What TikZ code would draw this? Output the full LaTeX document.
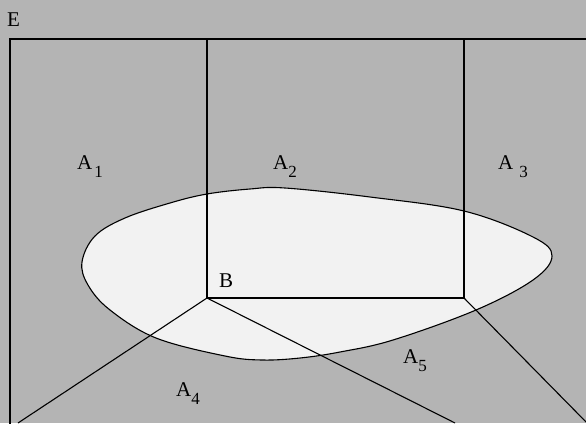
\documentclass[tikz,border=0pt]{standalone}
\usepackage{fontspec}
\setmainfont{Liberation Serif}
\definecolor{bggray}{RGB}{180,180,180}
\definecolor{blobfill}{RGB}{242,242,242}
\newcommand{\lowsub}[1]{\raisebox{-8pt}{\fontsize{17}{17}\selectfont #1}}
\begin{document}
\begin{tikzpicture}[x=1pt,y=-1pt,
  edge/.style={draw=black,line width=1.1pt},
  frame/.style={draw=black,line width=1.5pt},
  lbl/.style={inner sep=0pt,anchor=base west,font=\fontsize{21}{23}\selectfont}]
\fill[bggray] (0,0) rectangle (586,423);
\useasboundingbox (0,0) rectangle (586,423);
% coordinates
\coordinate (TL) at (10,39);
\coordinate (TR) at (590,39);
\coordinate (BL) at (10,430);
\coordinate (T1) at (207,39);
\coordinate (T2) at (464,39);
\coordinate (B) at (207,298);
\coordinate (C) at (464,298);
\coordinate (L4) at (18,423);
\coordinate (L5) at (455,423);
\coordinate (L6) at (590,426);
% blob
\draw[fill=blobfill,line width=1.1pt] plot[smooth cycle,tension=0.6] coordinates {
 (82,262) (95,236) (125,218) (170,203) (207,194) (250,189) (285,188)
 (370,197) (464,211) (533,237) (552,256) (533,280) (476,310)
 (393,340) (340,352) (300,358) (262,360) (225,356) (156,338) (110,310) (88,285)};
% lines
\draw[frame] (BL) -- (TL) -- (TR);
\draw[edge] (T1) -- (B) -- (C) -- (T2);
\draw[edge] (B) -- (L4);
\draw[edge] (B) -- (L5);
\draw[edge] (C) -- (L6);
% labels
\node[lbl] (E) at (7,26) {E};
\node[lbl] (A1) at (77,169) {A\hspace{2pt}\lowsub{1}};
\node[lbl] (A2) at (273,169) {A\lowsub{2}};
\node[lbl] (A3) at (498,169) {A\hspace{6pt}\lowsub{3}};
\node[lbl] (A4) at (176,396) {A\lowsub{4}};
\node[lbl] (A5) at (403,363) {A\lowsub{5}};
\node[lbl] (Bl) at (219,287) {B};
\end{tikzpicture}
\end{document}
